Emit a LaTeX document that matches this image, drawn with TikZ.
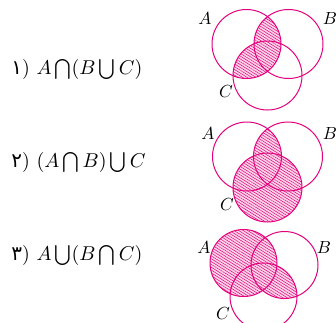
\documentclass[tikz,border=0pt]{standalone}
\usepackage{fontspec}
\usetikzlibrary{patterns.meta}
\newfontfamily\perfont[Script=Arabic]{DejaVu Sans}
\definecolor{pinkc}{RGB}{228,0,124}
\definecolor{pinkf}{RGB}{251,214,233}
\tikzset{
  circ/.style={draw=pinkc, line width=1pt},
  hatch/.style={fill=pinkf, postaction={pattern={Lines[angle=-32,distance=2.4pt,line width=0.5pt]}, pattern color=pinkc}},
  lab/.style={font=\normalsize, inner sep=0pt, scale=1.75, transform shape},
  expr/.style={font=\normalsize, anchor=west, inner sep=0pt, scale=2.0, transform shape}
}
\begin{document}
\begin{tikzpicture}[x=1pt,y=-1pt]
\useasboundingbox (0,0) rectangle (336,322);
% ---------- diagram 1: A cap (B cup C)
\coordinate (a1) at (246.5,44);
\coordinate (b1) at (288.5,44);
\coordinate (c1) at (267.5,75.5);
\begin{scope}
  \clip (a1) circle (34.5);
  \path[hatch] (b1) circle (34.5);
  \path[hatch] (c1) circle (34.5);
\end{scope}
\draw[circ] (a1) circle (34.5);
\draw[circ] (b1) circle (34.5);
\draw[circ] (c1) circle (34.5);
\node[lab] (la1) at (205,19) {$A$};
\node[lab] (lb1) at (330,19) {$B$};
\node[lab] (lc1) at (226,92) {$C$};
\node[expr] (e1) at (11,69) {{\perfont ۱})\ $A\bigcap(B\bigcup C)$};
% ---------- diagram 2: (A cap B) cup C
\coordinate (a2) at (247,156.5);
\coordinate (b2) at (288,156.5);
\coordinate (c2) at (267.5,187.5);
\path[hatch] (c2) circle (34.5);
\begin{scope}
  \clip (a2) circle (34.5);
  \path[hatch] (b2) circle (34.5);
\end{scope}
\draw[circ] (a2) circle (34.5);
\draw[circ] (b2) circle (34.5);
\draw[circ] (c2) circle (34.5);
\node[lab] (la2) at (208,134) {$A$};
\node[lab] (lb2) at (330,134) {$B$};
\node[lab] (lc2) at (227,205) {$C$};
\node[expr] (e2) at (11,162) {{\perfont ۲})\ $(A\bigcap B)\bigcup C$};
% ---------- diagram 3: A cup (B cap C)
\coordinate (a3) at (243.5,263);
\coordinate (b3) at (284.5,265);
\coordinate (c3) at (263.5,296.5);
\path[hatch] (a3) circle (33.5);
\begin{scope}
  \clip (b3) circle (33.5);
  \path[hatch] (c3) circle (33.5);
\end{scope}
\draw[circ] (a3) circle (33.5);
\draw[circ] (b3) circle (33.5);
\draw[circ] (c3) circle (33.5);
\node[lab] (la3) at (204,248) {$A$};
\node[lab] (lb3) at (324,248) {$B$};
\node[lab] (lc3) at (223,314) {$C$};
\node[expr] (e3) at (11,255) {{\perfont ۳})\ $A\bigcup(B\bigcap C)$};
\end{tikzpicture}
\end{document}
